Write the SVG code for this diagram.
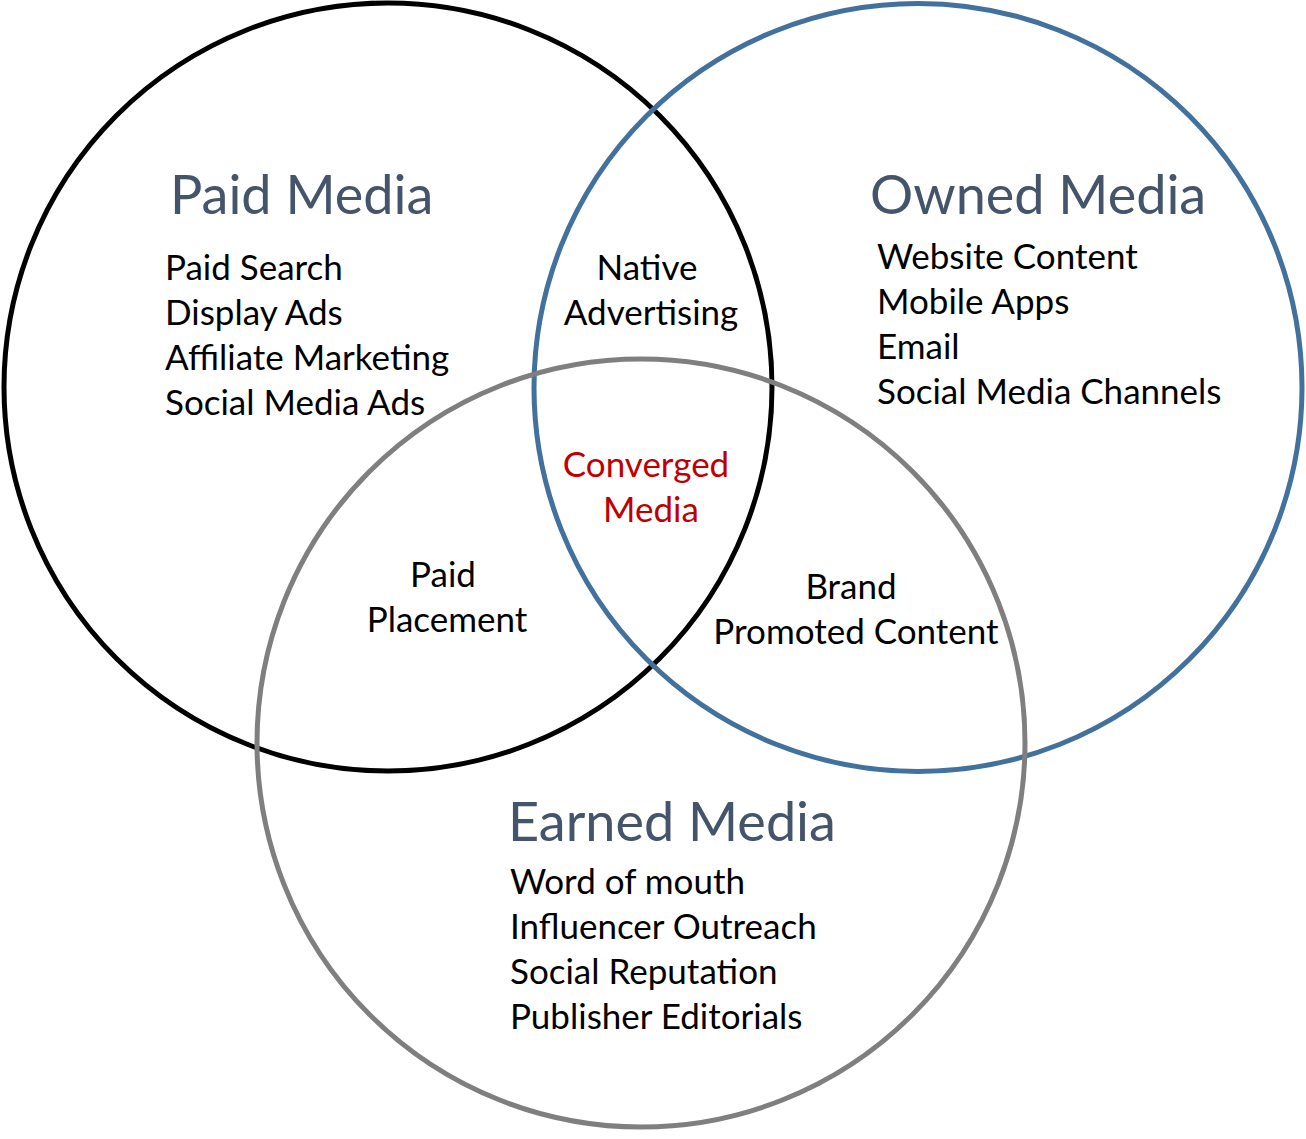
<svg xmlns="http://www.w3.org/2000/svg" width="1306" height="1139" viewBox="0 0 1306 1139">
<style>
.c{fill:none;stroke-width:5}
.h{font-family:Lato,"Open Sans",sans-serif;font-size:54px;fill:#44546A}
.t{font-family:Lato,"Open Sans",sans-serif;font-size:35px;fill:#000}
.m{text-anchor:middle}
.r{fill:#C00000}
</style>
<rect width="1306" height="1139" fill="#fff"/>
<g id="circles">
<circle id="paid-circle" class="c" cx="388" cy="387" r="384" stroke="#000"/>
<circle id="owned-circle" class="c" cx="918" cy="387.5" r="384" stroke="#41719C"/>
<circle id="earned-circle" class="c" cx="641" cy="743" r="384" stroke="#7F7F7F"/>
</g>
<g id="paid">
<text class="h" x="170" y="214">Paid Media</text>
<text class="t" x="165" y="280">Paid Search</text>
<text class="t" x="165" y="325">Display Ads</text>
<text class="t" x="165" y="370">Affiliate Marketing</text>
<text class="t" x="165" y="415">Social Media Ads</text>
</g>
<g id="owned">
<text class="h" x="870" y="214">Owned Media</text>
<text class="t" x="877" y="269">Website Content</text>
<text class="t" x="877" y="314">Mobile Apps</text>
<text class="t" x="877" y="359">Email</text>
<text class="t" x="877" y="404">Social Media Channels</text>
</g>
<g id="native">
<text class="t m" x="647" y="280">Native</text>
<text class="t m" x="651" y="325">Advertising</text>
</g>
<g id="converged">
<text class="t m r" x="646" y="477">Converged</text>
<text class="t m r" x="651" y="522">Media</text>
</g>
<g id="paid-placement">
<text class="t m" x="443" y="587">Paid</text>
<text class="t m" x="447" y="632">Placement</text>
</g>
<g id="brand-promoted">
<text class="t m" x="851" y="599">Brand</text>
<text class="t m" x="856" y="644">Promoted Content</text>
</g>
<g id="earned">
<text class="h" x="508" y="841">Earned Media</text>
<text class="t" x="510" y="894">Word of mouth</text>
<text class="t" x="510" y="939">Influencer Outreach</text>
<text class="t" x="510" y="984">Social Reputation</text>
<text class="t" x="510" y="1029">Publisher Editorials</text>
</g>
</svg>
